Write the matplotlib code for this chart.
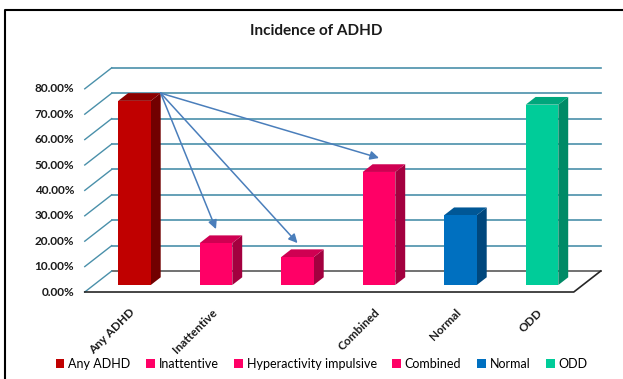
import matplotlib.pyplot as plt
from matplotlib.patches import Polygon, Patch
from matplotlib.lines import Line2D

plt.rcParams['font.family'] = ['Lato', 'DejaVu Sans']

# Dane
categories = ['Any ADHD', 'Inattentive', 'Hyperactivity impulsive', 'Combined', 'Normal', 'ODD']
values = [72.5, 16.5, 11.0, 44.5, 27.5, 71.0]
tick_labels = ['Any ADHD', 'Inattentive', '', 'Combined', 'Normal', 'ODD']
y_ticks = [0, 10, 20, 30, 40, 50, 60, 70, 80]
arrow_targets = [1, 2, 3]  # strzałki od "Any ADHD"

# kolory: przód, bok, góra
front_cols = ['#c00000', '#ff0066', '#ff0066', '#ff0066', '#0070c0', '#00cc99']
side_cols = ['#720000', '#a3003f', '#a3003f', '#a3003f', '#00477d', '#008a66']
top_cols = ['#8c0000', '#cf0052', '#cf0052', '#cf0052', '#005796', '#00a67c']

# Rzut 3D -> 2D (głębokość d od 0 = przód do 1 = tylna ściana)
DX = 0.331
DY = 8.27
d0, d1 = 1 / 3, 0.70  # przód i tył słupka
half_w = 0.2


def p(x, y, d):
    return (x + d * DX, y + d * DY)


fig = plt.figure(figsize=(6.23, 3.79), dpi=100)
ax = fig.add_axes([0, 0, 1, 1])
ax.set_xlim(-1.540, 6.104)
ax.set_ylim(-34.25, 114.96)
ax.axis('off')

grid_col = '#4a90aa'
x0, x1 = -0.5, len(categories) - 0.5

# siatka: tylna ściana + lewa ściana
for t in y_ticks:
    col = '#595959' if t == 0 else grid_col
    xs, ys = zip(p(x1, t, 1), p(x0, t, 1), p(x0, t, 0))
    ax.plot(xs[:2], ys[:2], color=col, lw=1.2, zorder=1)
    ax.plot(xs[1:], ys[1:], color=grid_col, lw=1.0, zorder=1)
    ax.text(-0.63, t, f'{t:.2f}%', ha='right', va='center',
            fontsize=8.5, fontweight='bold', color='#1a1a1a')

# podłoga: przednia krawędź i prawy bok
fx, fy = zip(p(x0, 0, 0), p(x1, 0, 0), p(x1, 0, 1))
ax.plot(fx, fy, color='#262626', lw=1.2, zorder=1)

# słupki
for i, v in enumerate(values):
    l, r = i - half_w, i + half_w
    front = [p(l, 0, d0), p(r, 0, d0), p(r, v, d0), p(l, v, d0)]
    side = [p(r, 0, d0), p(r, 0, d1), p(r, v, d1), p(r, v, d0)]
    top = [p(l, v, d0), p(r, v, d0), p(r, v, d1), p(l, v, d1)]
    ax.add_patch(Polygon(side, closed=True, fc=side_cols[i], ec='none', zorder=3))
    ax.add_patch(Polygon(top, closed=True, fc=top_cols[i], ec='none', zorder=3))
    ax.add_patch(Polygon(front, closed=True, fc=front_cols[i], ec='none', zorder=4))

# etykiety kategorii
for i, lab in enumerate(tick_labels):
    if lab:
        ax.text(i + 0.05, -5.8, lab, rotation=45, rotation_mode='anchor',
                ha='right', va='top', fontsize=8.5, fontweight='bold', color='#1a1a1a')

# strzałki
src = p(half_w, values[0], d1)
for j in arrow_targets:
    tip = p(j, values[j] + 5.5, d0)
    ax.annotate('', xy=tip, xytext=src,
                arrowprops=dict(arrowstyle='-|>', color='#4a7ebb', lw=1.1,
                                mutation_scale=13, shrinkA=0, shrinkB=0),
                zorder=6)

fig.text(0.507, 0.918, 'Incidence of ADHD', ha='center', va='center',
         fontsize=11, fontweight='bold', color='#1a1a1a')

handles = [Patch(fc=c, ec='none') for c in front_cols]
fig.legend(handles, categories, loc='lower center', bbox_to_anchor=(0.516, -0.005),
           ncol=6, frameon=False, fontsize=9, handlelength=0.7, handleheight=0.7,
           handletextpad=0.3, columnspacing=1.25)

# ramka wykresu
fig.add_artist(Line2D([4.5 / 623, 4.5 / 623, 1.0], [0.0, 1 - 10 / 379, 1 - 10 / 379],
                      transform=fig.transFigure, color='black', lw=1.5))

fig.savefig('out.png', dpi=100)
